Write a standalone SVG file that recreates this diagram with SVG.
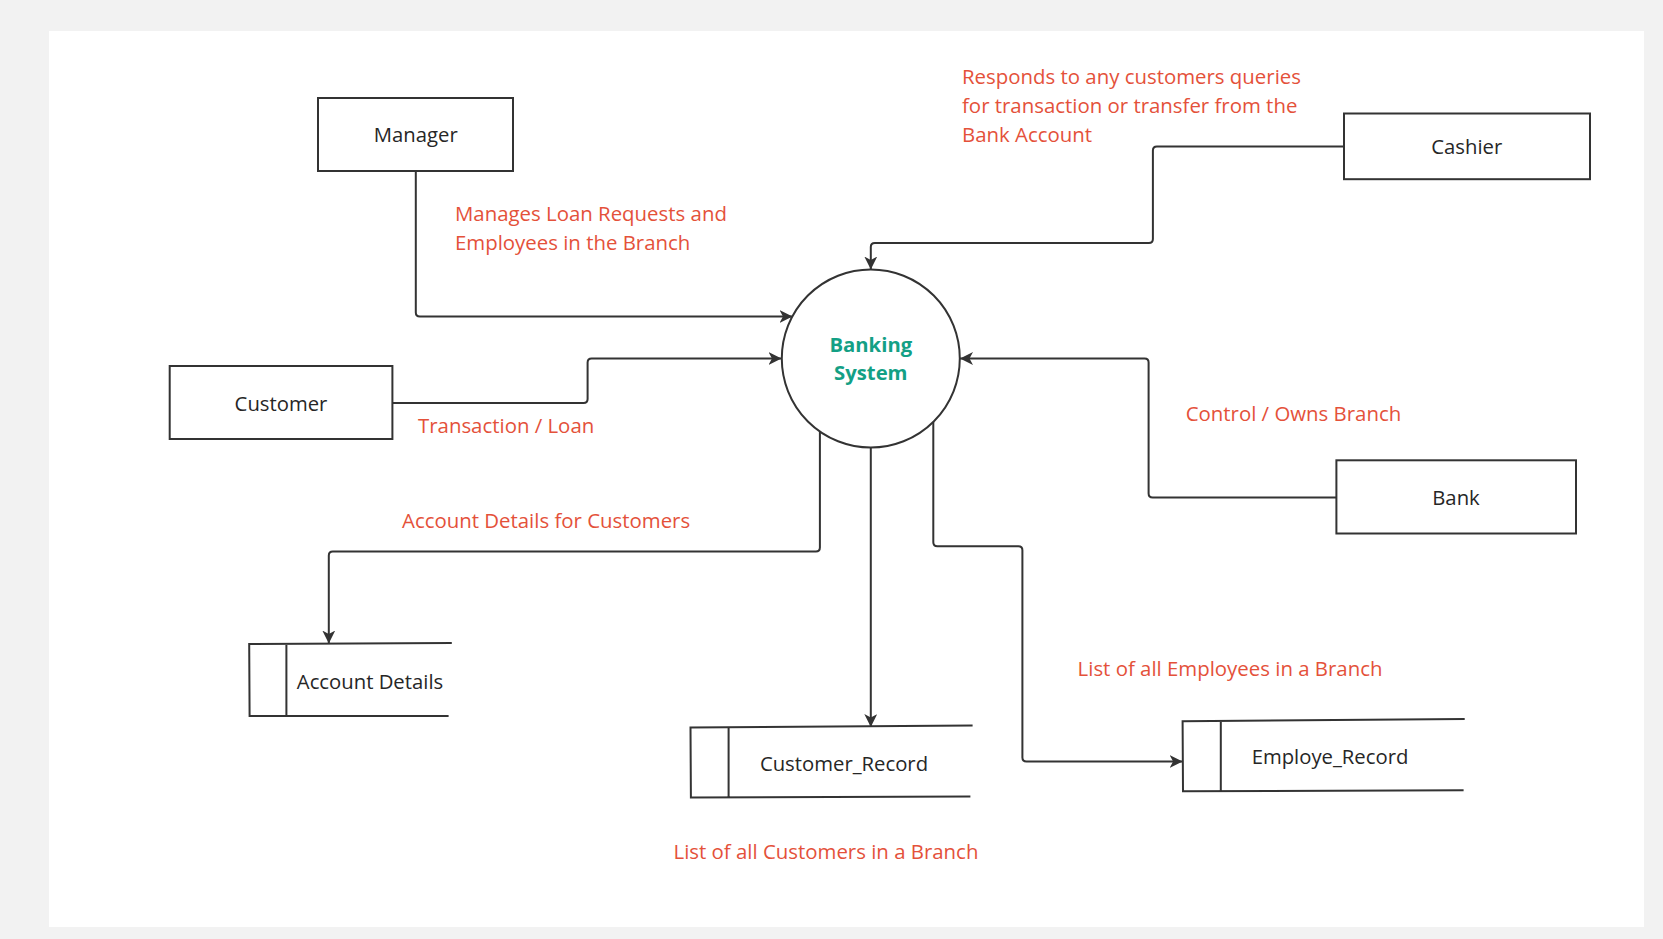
<svg xmlns="http://www.w3.org/2000/svg" width="1663" height="939" viewBox="0 0 1663 939">
<defs>
<style>
.box{fill:#ffffff;stroke:#333333;stroke-width:2}
.store{fill:none;stroke:#333333;stroke-width:2}
.conn{fill:none;stroke:#333333;stroke-width:2}
.nt{font-family:"Open Sans","Noto Sans",sans-serif;font-size:20.3px;fill:#262626;text-anchor:middle}
.lbl{font-family:"Open Sans","Noto Sans",sans-serif;font-size:20.4px;fill:#e4513a}
.ct{font-family:"Open Sans","Noto Sans",sans-serif;font-size:20.3px;font-weight:bold;fill:#13a085;text-anchor:middle}
</style>
<marker id="arr" markerUnits="userSpaceOnUse" markerWidth="14" markerHeight="14" refX="13" refY="6.5" orient="auto">
<path d="M0,0 L13,6.5 L0,13 L3.5,6.5 z" fill="#333333"/>
</marker>
</defs>
<rect x="0" y="0" width="1663" height="939" fill="#f2f2f2"/>
<rect x="49" y="31" width="1595" height="896" fill="#ffffff"/>

<g id="connectors">
<path class="conn" marker-end="url(#arr)" d="M415.8,171 L415.8,312.5 Q415.8,316.5 419.8,316.5 L792.5,316.5"/>
<path class="conn" marker-end="url(#arr)" d="M392.4,403 L583.6,403 Q587.6,403 587.6,399 L587.6,362.5 Q587.6,358.5 591.6,358.5 L781.5,358.5"/>
<path class="conn" marker-end="url(#arr)" d="M1343.8,146.4 L1156.9,146.4 Q1152.9,146.4 1152.9,150.4 L1152.9,238.9 Q1152.9,242.9 1148.9,242.9 L874.8,242.9 Q870.8,242.9 870.8,246.9 L870.8,269.5"/>
<path class="conn" marker-end="url(#arr)" d="M1336.4,497.4 L1152.6,497.4 Q1148.6,497.4 1148.6,493.4 L1148.6,362.5 Q1148.6,358.5 1144.6,358.5 L960,358.5"/>
<path class="conn" marker-end="url(#arr)" d="M819.9,431.4 L819.9,547.5 Q819.9,551.5 815.9,551.5 L332.8,551.5 Q328.8,551.5 328.8,555.5 L328.8,643.5"/>
<path class="conn" marker-end="url(#arr)" d="M870.8,447.5 L870.8,727"/>
<path class="conn" marker-end="url(#arr)" d="M933.3,422 L933.3,542.2 Q933.3,546.2 937.3,546.2 L1018.4,546.2 Q1022.4,546.2 1022.4,550.2 L1022.4,757.5 Q1022.4,761.5 1026.4,761.5 L1182.6,761.5"/>
</g>

<g id="banking-system">
<circle cx="870.8" cy="358.5" r="89" fill="#ffffff" stroke="#333333" stroke-width="2"/>
<text class="ct" x="870.8" y="351.5">Banking</text>
<text class="ct" x="870.8" y="379.5">System</text>
</g>

<g id="manager">
<rect class="box" x="318" y="98" width="195" height="73"/>
<text class="nt" x="415.8" y="142">Manager</text>
</g>

<g id="cashier">
<rect class="box" x="1344" y="113.5" width="246" height="65.7"/>
<text class="nt" x="1466.8" y="154">Cashier</text>
</g>

<g id="customer">
<rect class="box" x="169.7" y="366" width="222.7" height="73"/>
<text class="nt" x="281" y="410.5">Customer</text>
</g>

<g id="bank">
<rect class="box" x="1336.4" y="460.3" width="239.6" height="73.2"/>
<text class="nt" x="1456" y="505">Bank</text>
</g>

<g id="account-details">
<path class="store" d="M451.8,643 L249.2,644 L249.6,716 L448.6,716 M286.4,644 L286.4,716"/>
<text class="nt" x="370" y="688.5">Account Details</text>
</g>

<g id="customer-record">
<path class="store" d="M972.6,725.5 L690.5,727.6 L690.9,797.6 L970.4,796.6 M728.6,727.4 L728.6,797.4"/>
<text class="nt" x="844" y="771">Customer_Record</text>
</g>

<g id="employe-record">
<path class="store" d="M1464.7,719 L1182.6,721.2 L1183,791.2 L1463.6,790.2 M1220.8,721 L1220.8,791"/>
<text class="nt" x="1330" y="763.5">Employe_Record</text>
</g>

<g id="labels">
<text class="lbl" x="455" y="220.5">Manages Loan Requests and</text>
<text class="lbl" x="455" y="250.2">Employees in the Branch</text>
<text class="lbl" x="962" y="84">Responds to any customers queries</text>
<text class="lbl" x="962" y="113">for transaction or transfer from the</text>
<text class="lbl" x="962" y="142.2">Bank Account</text>
<text class="lbl" x="418" y="432.5">Transaction / Loan</text>
<text class="lbl" x="1185.7" y="421">Control / Owns Branch</text>
<text class="lbl" x="402" y="528.2">Account Details for Customers</text>
<text class="lbl" x="1077.6" y="675.5">List of all Employees in a Branch</text>
<text class="lbl" x="673.5" y="859">List of all Customers in a Branch</text>
</g>
</svg>
